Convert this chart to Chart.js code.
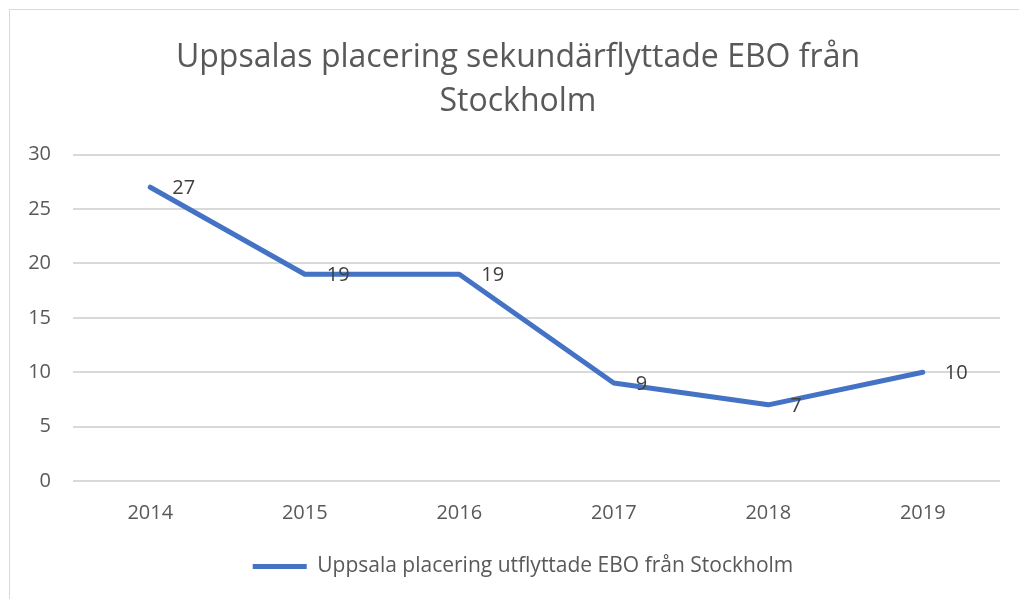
<!DOCTYPE html>
<html lang="sv">
<head>
  <meta charset="UTF-8">
  <title>Uppsalas placering sekundärflyttade EBO från Stockholm</title>
  <script src="https://cdn.jsdelivr.net/npm/chart.js"></script>
  <style>
    html, body { margin: 0; padding: 0; background: #fff; overflow: hidden; }
    #ram { position: absolute; left: 9px; top: 9px; width: 1030px; height: 600px; border: 1px solid #d9d9d9; }
    #ram canvas { display: block; }
  </style>
</head>
<body>
  <div id="ram"><canvas id="grafico" width="1009" height="589"></canvas></div>

  <script>
    const years = ["2014", "2015", "2016", "2017", "2018", "2019"];
    const placering = [27, 19, 19, 9, 7, 10];
    const serieNamn = "Uppsala placering utflyttade EBO från Stockholm";
    const titel = ["Uppsalas placering sekundärflyttade EBO från", "Stockholm"];

    const font = "'Open Sans', Lato, sans-serif";
    const gra = "#595959";

    // etiketter till höger om varje punkt
    const dataEtiketter = {
      id: "dataEtiketter",
      afterDatasetsDraw(chart) {
        const ctx = chart.ctx;
        const meta = chart.getDatasetMeta(0);
        ctx.save();
        ctx.font = "20px " + font;
        ctx.fillStyle = "#404040";
        ctx.textAlign = "left";
        ctx.textBaseline = "middle";
        meta.data.forEach((p, i) => {
          ctx.fillText(String(placering[i]), p.x + 22, p.y + 1);
        });
        ctx.restore();
      }
    };

    // originaldiagrammet är bredare än bilden, så titel och förklaring ligger lite till höger
    const flyttaCentrum = {
      id: "flyttaCentrum",
      afterLayout(chart) {
        const t = chart.titleBlock;
        if (t) { t.left += 13; t.right += 13; }
        const l = chart.legend;
        if (l) { l.left += 18; l.right += 18; }
      }
    };

    const ctx = document.getElementById("grafico").getContext("2d");
    new Chart(ctx, {
      type: "line",
      data: {
        labels: years,
        datasets: [{
          label: serieNamn,
          data: placering,
          borderColor: "#4472C4",
          backgroundColor: "#4472C4",
          borderWidth: 5,
          borderCapStyle: "round",
          borderJoinStyle: "round",
          pointRadius: 0,
          pointHoverRadius: 0,
          pointStyle: "line",
          tension: 0
        }]
      },
      options: {
        responsive: false,
        animation: false,
        layout: { padding: { left: 0, right: 19, top: 25, bottom: 12 } },
        plugins: {
          title: {
            display: true,
            text: titel,
            color: gra,
            font: { family: font, size: 32, weight: "normal", lineHeight: 1.4 },
            padding: { top: 0, bottom: 30 }
          },
          legend: {
            display: true,
            position: "bottom",
            labels: {
              usePointStyle: true,
              pointStyleWidth: 54,
              color: gra,
              font: { family: font, size: 21 },
              padding: 11
            }
          },
          tooltip: { enabled: false }
        },
        scales: {
          x: {
            offset: true,
            grid: { display: false, drawTicks: false },
            border: { display: false },
            ticks: { color: gra, font: { family: font, size: 20 }, padding: 20 }
          },
          y: {
            min: 0,
            max: 30,
            grid: { color: "#d9d9d9", lineWidth: 2, drawTicks: false },
            border: { display: false },
            ticks: { stepSize: 5, color: gra, font: { family: font, size: 20 }, padding: 22 },
            afterFit(scale) { scale.width = 63; }
          }
        }
      },
      plugins: [dataEtiketter, flyttaCentrum]
    });
  </script>
</body>
</html>
